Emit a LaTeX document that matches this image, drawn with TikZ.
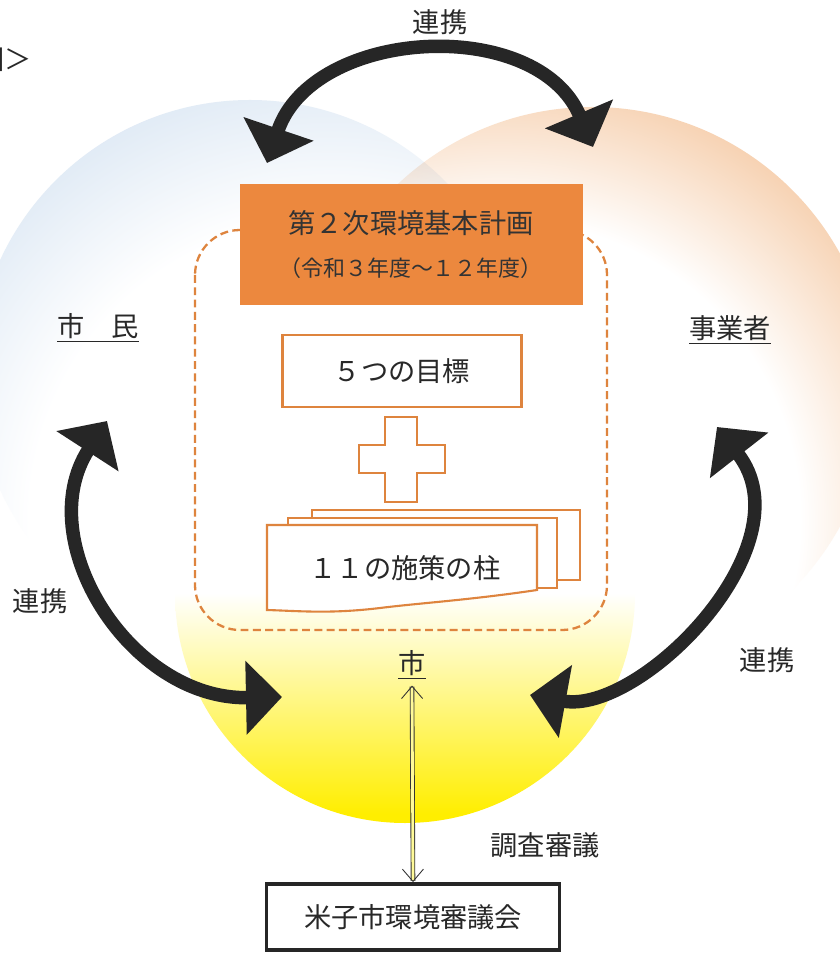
\documentclass[tikz,border=0pt]{standalone}
\usepackage{fontspec}
\setmainfont{Noto Sans CJK JP}
\usetikzlibrary{arrows.meta}
\definecolor{citizenblue}{RGB}{192,213,235}
\definecolor{bizorange}{RGB}{242,186,138}
\definecolor{cityyellow}{RGB}{255,238,0}
\definecolor{planorange}{RGB}{236,136,62}
\definecolor{lineorange}{RGB}{222,132,62}
\definecolor{inkgray}{RGB}{40,40,40}
\pgfdeclareradialshading{citizenglow}{\pgfpoint{0bp}{0bp}}{color(0bp)=(white); color(15bp)=(white); color(30bp)=(citizenblue); color(50bp)=(citizenblue)}
\pgfdeclareradialshading{bizglow}{\pgfpoint{0bp}{0bp}}{color(0bp)=(white); color(15bp)=(white); color(26bp)=(bizorange); color(50bp)=(bizorange)}
\pgfdeclareverticalshading{cityglow}{100bp}{color(0bp)=(cityyellow); color(26bp)=(cityyellow); color(50bp)=(white); color(100bp)=(white)}

\begin{document}
\begin{tikzpicture}[x=0.02cm, y=-0.02cm,
	lbl/.style={font=\fontsize{15.5}{18}\selectfont, text=inkgray},
	goalbox/.style={draw=lineorange, line width=1.2pt, fill=white},
	linkarrow/.style={line width=0.27cm, draw=black!85, {Triangle[length=0.72cm,width=1.44cm]}-{Triangle[length=0.72cm,width=1.44cm]}},
	cityarrow/.style={line width=0.5pt, draw=black!80, double=yellow!40!white, double distance=1.6pt, {Straight Barb[length=7pt,width=12pt]}-{Straight Barb[length=7pt,width=12pt]}}]
			%%%%% START %%%%%
			
			\fill[white] (0,0) rectangle (839,955);
			\useasboundingbox (0,0) rectangle (839,955);
			
			% the three circles
			\begin{scope}
				\clip (250,375) circle (275);
				\shade[shading=citizenglow] (330,520) circle (500);
			\end{scope}
			\begin{scope}[blend mode=multiply]
				\clip (592,390) circle (283);
				\shade[shading=bizglow] (500,520) circle (500);
			\end{scope}
			\begin{scope}[blend mode=multiply]
				\shade[shading=cityglow] (405,593) circle (230);
			\end{scope}
			
			\node[lbl, anchor=east, inner sep=0pt] (figtag) at (32,60) {図＞};
			
			% plan
			\draw[lineorange, line width=1.3pt, dash pattern=on 4.5pt off 2.5pt, rounded corners=0.9cm] (195,230) rectangle (607,630);
			\fill[planorange] (240,184) rectangle (583,305);
			\node[font=\fontsize{15.5}{18}\selectfont, text=black!80] (plan) at (411,223) {第２次環境基本計画};
			\node[font=\fontsize{12.5}{14}\selectfont, text=black!80] (period) at (411,268) {（令和３年度～１２年度）};
			
			\node[goalbox, lbl, minimum width=4.78cm, minimum height=1.44cm] (goals) at (402,371) {５つの目標};
			
			\draw[goalbox] (385,417) -- (417,417) -- (417,445) -- (445,445) -- (445,473) -- (417,473) -- (417,502) -- (385,502) -- (385,473) -- (359,473) -- (359,445) -- (385,445) -- cycle;
			
			\draw[goalbox] (312,510) rectangle (580,580);
			\draw[goalbox] (288,518) rectangle (557,588);
			\draw[goalbox] (267,525) -- (537,525) -- (537,590) .. controls (470,600) and (420,603) .. (380,608) .. controls (330,614) and (300,611) .. (267,610) -- cycle;
			\node[lbl] (pillars) at (405,568) {１１の施策の柱};
			
			% actors
			\node[lbl] (citizens) at (98,328) {\underline{市　民}};
			\node[lbl] (business) at (730,330) {\underline{事業者}};
			\node[lbl] (city) at (412,665) {\underline{市}};
			
			\node[lbl] (linktop) at (440,22) {連携};
			\node[lbl] (linkleft) at (40,601) {連携};
			\node[lbl] (linkright) at (767,660) {連携};
			\node[lbl] (review) at (545,845) {調査審議};
			
			\node[lbl, draw=black!85, line width=2.2pt, fill=white, minimum width=5.86cm, minimum height=1.32cm] (council) at (413,917) {米子市環境審議会};
			
			% links
			\coordinate (topL) at (267,163);
			\coordinate (topR) at (593,147);
			\coordinate (leftT) at (107,421);
			\coordinate (leftB) at (282,697);
			\coordinate (rightT) at (717,427);
			\coordinate (rightB) at (530,695);
			
			\draw[linkarrow] (topL) .. controls (313,27) and (537,15) .. (topR);
			\draw[linkarrow] (leftT) .. controls (30,540) and (130,700) .. (leftB);
			\draw[linkarrow] (rightT) .. controls (809,545) and (640,715) .. (rightB);
			
			\draw[cityarrow] (city.south) -- (council.north);
			
			%%%%% END %%%%%
\end{tikzpicture}
\end{document}
